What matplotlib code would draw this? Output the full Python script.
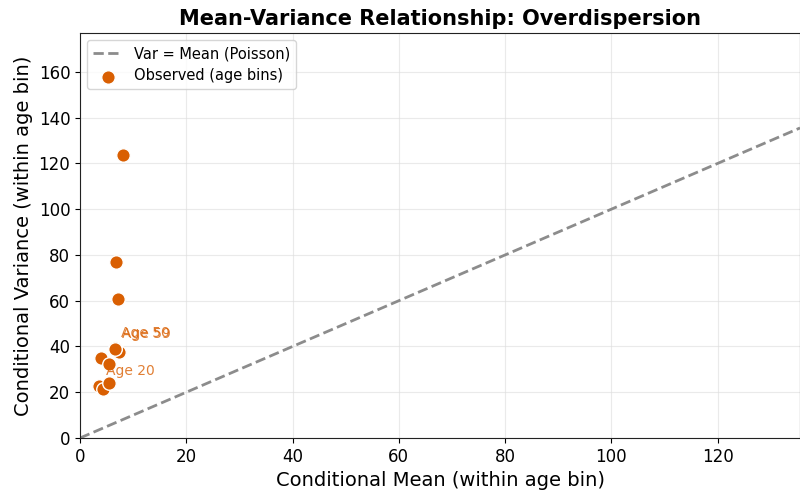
import numpy as np
import matplotlib
matplotlib.use('Agg')
from matplotlib import pyplot as plt

# conditional mean / variance per age bin
age_labels = ['Age 20', '', '', '', '', '', 'Age 50', 'Age 59', '', '', '']
cond_mean = [3.5, 4.3, 5.5, 3.9, 5.5, 7.4, 6.5, 6.6, 7.1, 6.8, 8.0]
cond_var = [22.6, 21.2, 24.0, 34.8, 32.2, 37.7, 39.4, 39.0, 60.9, 76.8, 123.7]

x_max = 135.5
y_max = 177.0

fig = plt.figure(figsize=(8, 4.93), dpi=100)
ax = fig.add_axes([80 / 800, 55 / 493, 720 / 800, 405 / 493])

line = np.linspace(0, x_max, 100)
ax.plot(line, line, '--', color='gray', lw=2, alpha=0.9, label='Var = Mean (Poisson)', zorder=2)
ax.scatter(cond_mean, cond_var, s=95, color='#d95f02', edgecolor='white', linewidth=1,
           label='Observed (age bins)', zorder=3)

for lab, mx, vy in zip(age_labels, cond_mean, cond_var):
    if lab:
        ax.annotate(lab, (mx, vy), xytext=(5, 8), textcoords='offset points',
                    fontsize=10, color='#d95f02', alpha=0.8)

ax.set_xlim(0, x_max)
ax.set_ylim(0, y_max)
ax.set_xticks(np.arange(0, 121, 20))
ax.set_yticks(np.arange(0, 161, 20))
ax.tick_params(labelsize=12)
ax.grid(True, color='#dddddd', alpha=0.6, lw=0.8)
ax.set_axisbelow(True)
for sp in ax.spines.values():
    sp.set_color('#222222')

ax.set_xlabel('Conditional Mean (within age bin)', fontsize=14)
ax.set_ylabel('Conditional Variance (within age bin)', fontsize=14)
ax.set_title('Mean-Variance Relationship: Overdispersion', fontsize=15, fontweight='bold')
ax.legend(loc='upper left', fontsize=10.5)

plt.savefig('out.png', dpi=100)
